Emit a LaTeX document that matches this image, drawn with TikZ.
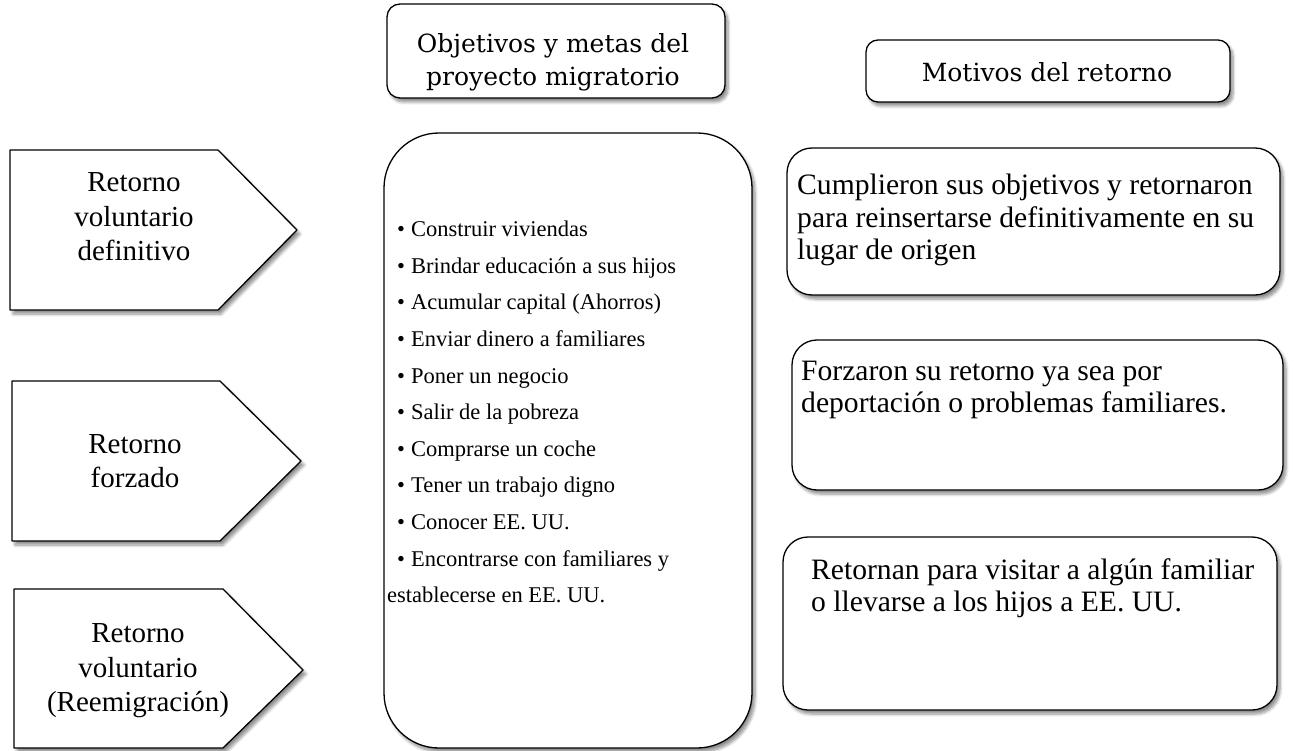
\documentclass[tikz,border=0pt]{standalone}
\usepackage{fontspec}
\setmainfont{Liberation Serif}
\newfontfamily\hdrfont{DejaVu Serif}
\usetikzlibrary{shadows.blur}
\begin{document}
\begin{tikzpicture}[x=1pt,y=-1pt,
  frame/.style={draw=black, line width=1.3pt, fill=white, line join=round,
    blur shadow={shadow xshift=3pt, shadow yshift=-4pt, shadow blur radius=3pt,
      shadow blur steps=6, shadow opacity=45}},
  hdrtext/.style={inner sep=0pt, align=center, font=\hdrfont\fontsize{25}{33}\selectfont},
  penttext/.style={inner sep=0pt, align=center, font=\fontsize{29}{34.5}\selectfont},
  righttext/.style={inner sep=0pt, align=left, anchor=west, font=\fontsize{29.6}{32.5}\selectfont},
  listtext/.style={inner sep=0pt, align=left, anchor=west, font=\fontsize{22.5}{36.6}\selectfont}
]
\useasboundingbox (0,0) rectangle (1295,751);

% header boxes
\draw[frame, rounded corners=13pt] (387,4) rectangle (725,98);
\node[hdrtext] (hdrA) at (553,62) {Objetivos y metas del\\proyecto migratorio};
\draw[frame, rounded corners=12pt] (866,40) rectangle (1230,102);
\node[hdrtext] (hdrB) at (1047,72) {Motivos del retorno};

% pentagons
\draw[frame] (10,150) -- (218,150) -- (297,230) -- (218,310) -- (10,310) -- cycle;
\node[penttext] (pA) at (134,217) {Retorno\\voluntario\\definitivo};
\draw[frame] (12,381) -- (220,381) -- (301,461) -- (220,541) -- (12,541) -- cycle;
\node[penttext] (pB) at (135,461) {Retorno\\forzado};
\draw[frame] (14,589) -- (223,589) -- (303,670) -- (223,748) -- (14,748) -- cycle;
\node[penttext] (pC) at (138,671) {Retorno\\voluntario\\(Reemigración)};

% list box
\draw[frame, rounded corners=55pt] (384,133) rectangle (752,748);
\node[listtext] (lst) at (387,412) {%
\hspace*{10pt}\textbullet\hspace{6pt}Construir viviendas\\
\hspace*{10pt}\textbullet\hspace{6pt}Brindar educación a sus hijos\\
\hspace*{10pt}\textbullet\hspace{6pt}Acumular capital (Ahorros)\\
\hspace*{10pt}\textbullet\hspace{6pt}Enviar dinero a familiares\\
\hspace*{10pt}\textbullet\hspace{6pt}Poner un negocio\\
\hspace*{10pt}\textbullet\hspace{6pt}Salir de la pobreza\\
\hspace*{10pt}\textbullet\hspace{6pt}Comprarse un coche\\
\hspace*{10pt}\textbullet\hspace{6pt}Tener un trabajo digno\\
\hspace*{10pt}\textbullet\hspace{6pt}Conocer EE. UU.\\
\hspace*{10pt}\textbullet\hspace{6pt}Encontrarse con familiares y\\
establecerse en EE. UU.};

% right boxes
\draw[frame, rounded corners=25pt] (787,148) rectangle (1280,295);
\node[righttext] (rA) at (797,220) {Cumplieron sus objetivos y retornaron\\para reinsertarse definitivamente en su\\lugar de origen};
\draw[frame, rounded corners=25pt] (792,340) rectangle (1283,490);
\node[righttext] (rB) at (801,390) {Forzaron su retorno ya sea por\\deportación o problemas familiares.};
\draw[frame, rounded corners=25pt] (783,537) rectangle (1277,710);
\node[righttext] (rC) at (811,588) {Retornan para visitar a algún familiar\\o llevarse a los hijos a EE. UU.};
\end{tikzpicture}
\end{document}
